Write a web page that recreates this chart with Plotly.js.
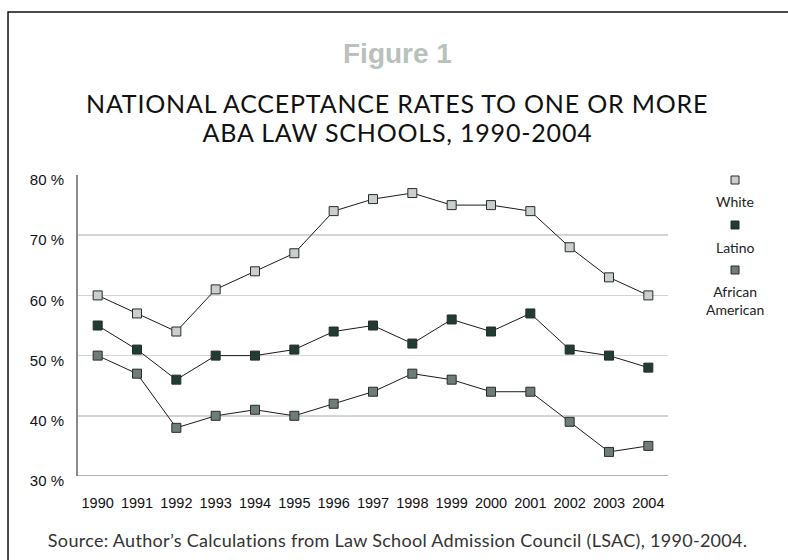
<!DOCTYPE html>
<html>
<head>
<meta charset="utf-8">
<script src="https://cdn.plot.ly/plotly-3.0.1.min.js"></script>
<style>
html,body{margin:0;padding:0;background:#fff;}
#chart{width:788px;height:560px;}
.annotation[data-index="1"] text, .annotation[data-index="2"] text {letter-spacing:0.8px;}
.annotation[data-index="3"] text {letter-spacing:0.3px;}
</style>
</head>
<body>
<div id="chart"></div>
<script>
const years = [1990,1991,1992,1993,1994,1995,1996,1997,1998,1999,2000,2001,2002,2003,2004];
const white = [60,57,54,61,64,67,74,76,77,75,75,74,68,63,60];
const latino = [55,51,46,50,50,51,54,55,52,56,54,57,51,50,48];
const africanAmerican = [50,47,38,40,41,40,42,44,47,46,44,44,39,34,35];
const seriesNames = ["White","Latino","African<br>American"];
const seriesColors = ["#c9cfcc","#1f3d31","#6e7e77"];
const yTicks = [30,40,50,60,70,80];
const yTickText = yTicks.map(v => v + ' %');

const seriesValues = [white, latino, africanAmerican];

const traces = seriesValues.map((vals,i)=>({
  type:'scatter',
  mode:'lines+markers',
  x: years,
  y: vals,
  name: seriesNames[i],
  line:{color:'#1a1a1a', width:1},
  marker:{symbol:'square', size:9, color:seriesColors[i], line:{color:'#2a2a2a', width:1}},
  showlegend:false,
  hoverinfo:'x+y'
}));

const shapes = [
  {type:'rect', xref:'paper', yref:'paper', x0:-0.1186, x1:2, y0:1.5415, y1:-0.6,
   line:{color:'#111', width:1.5}, fillcolor:'rgba(0,0,0,0)', layer:'below'},
];
const annotations = [
  {text:'<b>Figure 1</b>', xref:'paper', yref:'paper', x:0.541, y:1.404, xanchor:'center', yanchor:'middle',
   showarrow:false, font:{family:'Liberation Sans, Arial, sans-serif', size:28, color:'#b8c1bc'}},
  {text:'NATIONAL ACCEPTANCE RATES TO ONE OR MORE', xref:'paper', yref:'paper', x:0.541, y:1.239, xanchor:'center', yanchor:'middle',
   showarrow:false, font:{family:'Lato, sans-serif', size:25, color:'#111'}},
  {text:'ABA LAW SCHOOLS, 1990-2004', xref:'paper', yref:'paper', x:0.541, y:1.143, xanchor:'center', yanchor:'middle',
   showarrow:false, font:{family:'Lato, sans-serif', size:25, color:'#111'}},
  {text:'Source: Author\u2019s Calculations from Law School Admission Council (LSAC), 1990-2004.', xref:'paper', yref:'paper', x:0.541, y:-0.213, xanchor:'center', yanchor:'middle',
   showarrow:false, font:{family:'Lato, sans-serif', size:18, color:'#333'}}
];

const legMarkerY = [180,225,270];
const legLabelY = [201,247,300];
seriesNames.forEach((n,i)=>{
  const ym = (476-legMarkerY[i])/301;
  shapes.push({type:'rect', xref:'paper', yref:'paper', xsizemode:'pixel', ysizemode:'pixel',
    xanchor:1.1136, yanchor:ym, x0:-4, x1:4, y0:-4, y1:4,
    fillcolor:seriesColors[i], line:{color:'#2a2a2a', width:1}});
  annotations.push({text:n, xref:'paper', yref:'paper', x:1.1136, y:(476-legLabelY[i])/301,
    xanchor:'center', yanchor:'middle', showarrow:false,
    font:{family:'Lato, sans-serif', size:14, color:'#222'}});
});

const layout = {
  width:788, height:560,
  margin:{l:78, r:120, t:175, b:84},
  paper_bgcolor:'#fff', plot_bgcolor:'#fff',
  xaxis:{
    range:[1989.5,2004.5], tickmode:'array', tickvals:years, ticktext:years.map(String),
    showgrid:false, zeroline:false, showline:false, ticks:'',
    tickfont:{family:'Liberation Sans, Arial, sans-serif', size:14.5, color:'#111'},
    ticklabelstandoff:16, fixedrange:true
  },
  yaxis:{
    range:[30,80], tickmode:'array', tickvals:yTicks, ticktext:yTickText,
    showgrid:true, gridcolor:'#d4d4d4', gridwidth:1.5,
    zeroline:false, showline:true, linecolor:'#8a8a8a', linewidth:2, ticks:'',
    tickfont:{family:'Liberation Sans, Arial, sans-serif', size:15, color:'#111'},
    ticklabelstandoff:9, ticklabelshift:5, fixedrange:true
  },
  shapes: shapes.concat([
    {type:'line', xref:'paper', yref:'y', x0:0, x1:1, y0:30, y1:30, line:{color:'#b0b0b0', width:2}}
  ]),
  annotations: annotations,
  showlegend:false
};

Plotly.newPlot('chart', traces, layout, {displayModeBar:false, staticPlot:true});
</script>
</body>
</html>
